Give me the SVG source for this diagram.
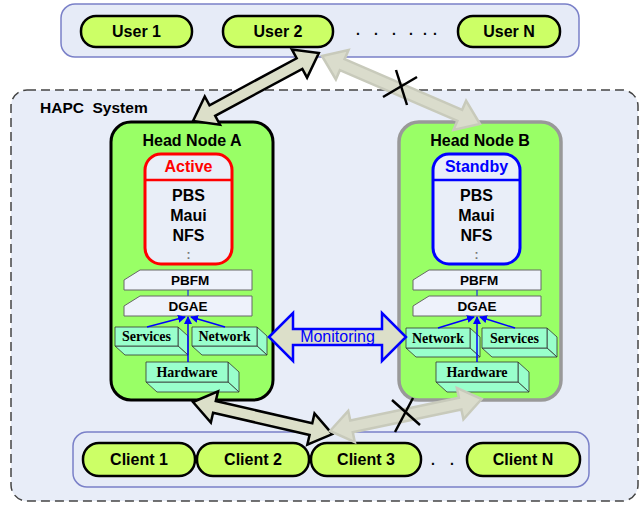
<svg xmlns="http://www.w3.org/2000/svg" width="641" height="505" viewBox="0 0 641 505">
<style>
.panel{fill:#e6ebf7;stroke:#7a80c8;stroke-width:1.5}
.pill{fill:#ccff66;stroke:#000;stroke-width:2.5}
.pt{font:bold 16px "Liberation Sans",Arial,sans-serif;text-anchor:middle;fill:#000}
.ht{font:bold 16px "Liberation Sans",Arial,sans-serif;text-anchor:middle;fill:#000}
.svc{fill:#e9eef8}
.lay{fill:#eef2fb;stroke:#666;stroke-width:1}
.lt{font:bold 13.5px "Liberation Sans",Arial,sans-serif;text-anchor:middle;fill:#000}
.box{fill:#99ffcc;stroke:#333;stroke-width:0.8;stroke-linejoin:round}
.bt{font:bold 14px "Liberation Serif","Times New Roman",serif;text-anchor:middle;fill:#000}
.big{fill:#dcdfc9;stroke:#000;stroke-width:2.5;stroke-linejoin:miter}
.faded{fill:#dadccc;stroke:#c8cabb;stroke-width:2.5;stroke-linejoin:miter}
.x{stroke:#000;stroke-width:2.5}
.bl{stroke:#0000ff;stroke-width:1.5;fill:none}
.dots{font:bold 12px "Liberation Sans",Arial,sans-serif;fill:#777;text-anchor:middle}
</style>
<defs>
<marker id="ah" markerUnits="userSpaceOnUse" markerWidth="8" markerHeight="8" refX="7" refY="4" orient="auto">
<path d="M0,0 L8,4 L0,8 Z" fill="#0000ff"/>
</marker>
</defs>
<rect width="641" height="505" fill="#fff"/>

<g id="hapc-system">
<rect x="11" y="90" width="627" height="411" rx="16" fill="#e8edf8" stroke="#444" stroke-width="1.5" stroke-dasharray="9,5"/>
<text x="40" y="113" xml:space="preserve" style="font:bold 15.5px 'Liberation Sans',Arial,sans-serif">HAPC  System</text>
</g>

<g id="users">
<rect class="panel" x="61" y="4" width="518" height="53" rx="14"/>
<g id="user1"><rect class="pill" x="81" y="16" width="111" height="31" rx="15"/><text class="pt" x="136.5" y="37">User 1</text></g>
<g id="user2"><rect class="pill" x="223" y="16" width="110" height="31" rx="15"/><text class="pt" x="278" y="37">User 2</text></g>
<text x="356 374 392 409 423 433" y="35" style="font:bold 14px 'Liberation Sans',Arial,sans-serif">......</text>
<g id="userN"><rect class="pill" x="458" y="16" width="102" height="31" rx="15"/><text class="pt" x="509" y="37">User N</text></g>
</g>

<g id="clients">
<rect class="panel" x="73" y="432" width="516" height="55" rx="14"/>
<g id="client1"><rect class="pill" x="83" y="443" width="112" height="33" rx="16"/><text class="pt" x="139" y="465">Client 1</text></g>
<g id="client2"><rect class="pill" x="197" y="443" width="112" height="33" rx="16"/><text class="pt" x="253" y="465">Client 2</text></g>
<g id="client3"><rect class="pill" x="311" y="443" width="110" height="33" rx="16"/><text class="pt" x="366" y="465">Client 3</text></g>
<text x="431 450" y="465" style="font:bold 14px 'Liberation Sans',Arial,sans-serif">..</text>
<g id="clientN"><rect class="pill" x="467" y="443" width="113" height="33" rx="16"/><text class="pt" x="523" y="465">Client N</text></g>
</g>

<g id="head-node-a">
<rect x="111" y="122" width="162" height="278" rx="20" fill="#99ff66" stroke="#000" stroke-width="3"/>
<text class="ht" x="192" y="146">Head Node A</text>
<rect class="svc" x="145" y="154" width="87" height="110" rx="16" stroke="#ff0000" stroke-width="3"/>
<line x1="145" y1="180" x2="232" y2="180" stroke="#ff0000" stroke-width="2.5"/>
<text class="ht" x="188.5" y="172" style="fill:#ff0000">Active</text>
<text class="ht" x="188.5" y="201">PBS</text>
<text class="ht" x="188.5" y="221">Maui</text>
<text class="ht" x="188.5" y="241">NFS</text>
<text class="dots" x="188.5" y="259">:</text>
<path class="lay" d="M124,290 V280 L140,270 H252 V290 Z"/>
<text class="lt" x="190" y="285">PBFM</text>
<line x1="188" y1="290" x2="188" y2="296" stroke="#0000ff" stroke-width="1"/>
<path class="lay" d="M124,316 V306 L140,296 H252 V316 Z"/>
<text class="lt" x="188" y="311">DGAE</text>
<g id="services-a">
<path class="box" d="M178,327 L188,336 V355 L178,346 Z"/>
<path class="box" d="M115,346 H178 L188,355 H125 Z"/>
<rect class="box" x="115" y="327" width="63" height="19"/>
<text class="bt" x="146.5" y="341">Services</text>
</g>
<g id="network-a">
<path class="box" d="M257,327 L267,336 V355 L257,346 Z"/>
<path class="box" d="M192,346 H257 L267,355 H202 Z"/>
<rect class="box" x="192" y="327" width="65" height="19"/>
<text class="bt" x="224.5" y="341">Network</text>
</g>
<g id="hardware-a">
<path class="box" d="M228,362 L239,372 V392 L228,382 Z"/>
<path class="box" d="M146,382 H228 L239,392 H157 Z"/>
<rect class="box" x="146" y="362" width="82" height="20"/>
<text class="bt" x="187" y="377">Hardware</text>
</g>
<line class="bl" x1="147" y1="327" x2="185" y2="317" marker-end="url(#ah)"/>
<line class="bl" x1="225" y1="327" x2="191" y2="317" marker-end="url(#ah)"/>
<line class="bl" x1="188" y1="362" x2="188" y2="317" marker-end="url(#ah)"/>
</g>

<g id="head-node-b">
<rect x="399" y="122" width="162" height="278" rx="20" fill="#99ff66" stroke="#999" stroke-width="3.5"/>
<text class="ht" x="480" y="146">Head Node B</text>
<rect class="svc" x="433" y="154" width="87" height="110" rx="16" stroke="#0000ff" stroke-width="3"/>
<line x1="433" y1="180" x2="520" y2="180" stroke="#0000ff" stroke-width="2.5"/>
<text class="ht" x="476.5" y="172" style="fill:#0000ff">Standby</text>
<text class="ht" x="476.5" y="201">PBS</text>
<text class="ht" x="476.5" y="221">Maui</text>
<text class="ht" x="476.5" y="241">NFS</text>
<text class="dots" x="476.5" y="259">:</text>
<path class="lay" d="M413,290 V280 L429,270 H541 V290 Z"/>
<text class="lt" x="479" y="285">PBFM</text>
<line x1="477" y1="290" x2="477" y2="296" stroke="#0000ff" stroke-width="1"/>
<path class="lay" d="M413,316 V306 L429,296 H541 V316 Z"/>
<text class="lt" x="477" y="311">DGAE</text>
<g id="network-b">
<path class="box" d="M470,328 L480,337 V357 L470,348 Z"/>
<path class="box" d="M406,348 H470 L480,357 H416 Z"/>
<rect class="box" x="406" y="328" width="64" height="20"/>
<text class="bt" x="438" y="343">Network</text>
</g>
<g id="services-b">
<path class="box" d="M547,328 L557,337 V357 L547,348 Z"/>
<path class="box" d="M482,348 H547 L557,357 H492 Z"/>
<rect class="box" x="482" y="328" width="65" height="20"/>
<text class="bt" x="514.5" y="343">Services</text>
</g>
<g id="hardware-b">
<path class="box" d="M518,362 L529,372 V392 L518,382 Z"/>
<path class="box" d="M436,382 H518 L529,392 H447 Z"/>
<rect class="box" x="436" y="362" width="82" height="20"/>
<text class="bt" x="477" y="377">Hardware</text>
</g>
<line class="bl" x1="438" y1="328" x2="474" y2="317" marker-end="url(#ah)"/>
<line class="bl" x1="515" y1="328" x2="480" y2="317" marker-end="url(#ah)"/>
<line class="bl" x1="477" y1="362" x2="477" y2="317" marker-end="url(#ah)"/>
</g>

<g id="connectors">
<polygon class="big" transform="translate(193,121) rotate(-28.35)" points="0,0 22,-16 22,-6 121,-6 121,-16 143,0 121,16 121,6 22,6 22,16"/>
<polygon class="big" transform="translate(193,402) rotate(12.96)" points="0,0 22,-16 22,-6 121,-6 121,-16 143,0 121,16 121,6 22,6 22,16"/>
<polygon class="faded" transform="translate(322,56) rotate(23.3)" points="0,0 22,-16 22,-6 150,-6 150,-16 172,0 150,16 150,6 22,6 22,16"/>
<polygon class="faded" transform="translate(330,431) rotate(-11.9)" points="0,0 22,-16 22,-6 133,-6 133,-16 155,0 133,16 133,6 22,6 22,16"/>
<line class="x" x1="383" y1="97" x2="417" y2="77"/>
<line class="x" x1="396" y1="70" x2="407" y2="105"/>
<line class="x" x1="392" y1="400" x2="420" y2="425"/>
<line class="x" x1="413" y1="398" x2="395" y2="432"/>
<g id="monitoring">
<polygon points="269,337 293,313 293,329 382,329 382,313 406,337 382,361 382,345 293,345 293,361" fill="#dcdfc9" stroke="#0000ff" stroke-width="2.5"/>
<text x="337.5" y="342" text-anchor="middle" style="font:16px 'Liberation Sans',Arial,sans-serif;fill:#0000ff">Monitoring</text>
</g>
</g>
</svg>
